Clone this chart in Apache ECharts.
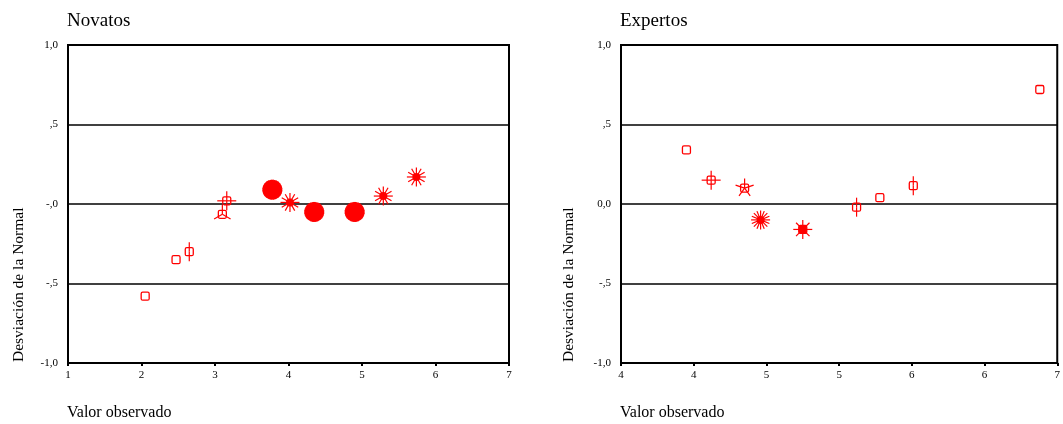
<!DOCTYPE html>
<html>
<head>
<meta charset="utf-8">
<script src="https://cdn.jsdelivr.net/npm/echarts@6/dist/echarts.min.js"></script>
<style>
  html, body { margin: 0; padding: 0; background: #fff; }
  #chart { width: 1063px; height: 424px; }
</style>
</head>
<body>
<div id="chart"></div>
<script>
// Novatos
const novatosX = [2.05, 2.47, 2.65, 3.10, 3.16, 3.78, 4.02, 4.35, 4.90, 5.29, 5.74];
const novatosY = [-0.58, -0.35, -0.30, -0.065, 0.02, 0.09, 0.01, -0.05, -0.05, 0.05, 0.17];
const novatosPetals = [0, 0, 2, 3, 4, 24, 12, 24, 24, 12, 12];

// Expertos
const expertosX = [4.45, 4.62, 4.85, 4.96, 5.25, 5.62, 5.78, 6.01, 6.88];
const expertosY = [0.34, 0.15, 0.10, -0.10, -0.16, -0.02, 0.04, 0.115, 0.72];
const expertosPetals = [0, 4, 5, 16, 8, 2, 0, 2, 0];

const yTicksNovatos = ["-1,0", "-,5", "-,0", ",5", "1,0"];
const yTicksExpertos = ["-1,0", "-,5", "0,0", ",5", "1,0"];

const FONT = "Liberation Serif";
const RED = "#ff0000";

function zip(xs, ys, ns) {
  return xs.map((x, i) => [x, ys[i], ns[i]]);
}

// SPSS-like sunflower marks: a petal per extra case
function sunflower(params, api) {
  const p = api.coord([api.value(0), api.value(1)]);
  const n = api.value(2);
  const children = [];
  const len = n >= 20 ? 10 : 9.5;
  for (let k = 0; k < n; k++) {
    const a = Math.PI / 2 + (k * 2 * Math.PI) / n;
    children.push({
      type: "line",
      shape: { x1: p[0], y1: p[1], x2: p[0] + len * Math.cos(a), y2: p[1] - len * Math.sin(a) },
      style: { stroke: RED, lineWidth: n >= 20 ? 3 : 1.2 },
    });
  }
  if (n >= 20) {
    children.push({ type: "circle", shape: { cx: p[0], cy: p[1], r: 6.5 }, style: { fill: RED } });
  } else if (n >= 10) {
    children.push({ type: "circle", shape: { cx: p[0], cy: p[1], r: 4 }, style: { fill: RED } });
  } else {
    children.push({
      type: "rect",
      shape: { x: p[0] - 4, y: p[1] - 4, width: 8, height: 8, r: 1.5 },
      style: { fill: n >= 8 ? RED : "none", stroke: RED, lineWidth: 1.3 },
    });
  }
  return { type: "group", children: children };
}

function yAxisFor(gridIndex, labels) {
  return {
    gridIndex: gridIndex,
    type: "value",
    min: -1,
    max: 1,
    interval: 0.5,
    axisLine: { show: false },
    axisTick: { show: false },
    axisLabel: {
      margin: 10,
      fontFamily: FONT,
      fontSize: 11,
      color: "#000",
      formatter: function (v) {
        return labels[Math.round((v + 1) / 0.5)];
      },
    },
    splitLine: { show: true, lineStyle: { color: "#000", width: 1.5 } },
  };
}

function xAxisFor(gridIndex, min, max, interval) {
  return {
    gridIndex: gridIndex,
    type: "value",
    min: min,
    max: max,
    interval: interval,
    axisLine: { show: true, onZero: false, lineStyle: { color: "#000", width: 2 } },
    axisTick: { show: true, length: 3, lineStyle: { color: "#000", width: 2 } },
    axisLabel: {
      margin: 7,
      fontFamily: FONT,
      fontSize: 11,
      color: "#000",
      formatter: function (v) {
        return String(Math.floor(v + 1e-9));
      },
    },
    splitLine: { show: false },
  };
}

const titleStyle = { fontFamily: FONT, fontSize: 19, fontWeight: "normal", color: "#000" };
const nameFont = "15.5px '" + FONT + "'";
const xNameFont = "16px '" + FONT + "'";

const chart = echarts.init(document.getElementById("chart"));
const option = {
  animation: false,
  backgroundColor: "#fff",
  title: [
    { text: "Novatos", left: 67, top: 12, padding: 0, textStyle: titleStyle },
    { text: "Expertos", left: 620, top: 12, padding: 0, textStyle: titleStyle },
  ],
  grid: [
    { left: 68, top: 45, width: 441, height: 318, show: true, borderColor: "#000", borderWidth: 2 },
    { left: 621, top: 45, width: 440, height: 318, show: true, borderColor: "#000", borderWidth: 2 },
  ],
  xAxis: [xAxisFor(0, 1, 7, 1), xAxisFor(1, 4, 7, 0.5)],
  yAxis: [yAxisFor(0, yTicksNovatos), yAxisFor(1, yTicksExpertos)],
  graphic: [
    { type: "text", x: 19, y: 362, rotation: Math.PI / 2, style: { text: "Desviación de la Normal", font: nameFont, fill: "#000", align: "left", verticalAlign: "middle" } },
    { type: "text", x: 569, y: 362, rotation: Math.PI / 2, style: { text: "Desviación de la Normal", font: nameFont, fill: "#000", align: "left", verticalAlign: "middle" } },
    { type: "text", x: 67, y: 413, style: { text: "Valor observado", font: xNameFont, fill: "#000", align: "left", verticalAlign: "middle" } },
    { type: "text", x: 620, y: 413, style: { text: "Valor observado", font: xNameFont, fill: "#000", align: "left", verticalAlign: "middle" } },
  ],
  series: [
    {
      name: "Novatos",
      type: "custom",
      xAxisIndex: 0,
      yAxisIndex: 0,
      encode: { x: 0, y: 1 },
      renderItem: sunflower,
      data: zip(novatosX, novatosY, novatosPetals),
    },
    {
      name: "Expertos",
      type: "custom",
      xAxisIndex: 1,
      yAxisIndex: 1,
      encode: { x: 0, y: 1 },
      renderItem: sunflower,
      data: zip(expertosX, expertosY, expertosPetals),
    },
  ],
};
chart.setOption(option);
</script>
</body>
</html>
